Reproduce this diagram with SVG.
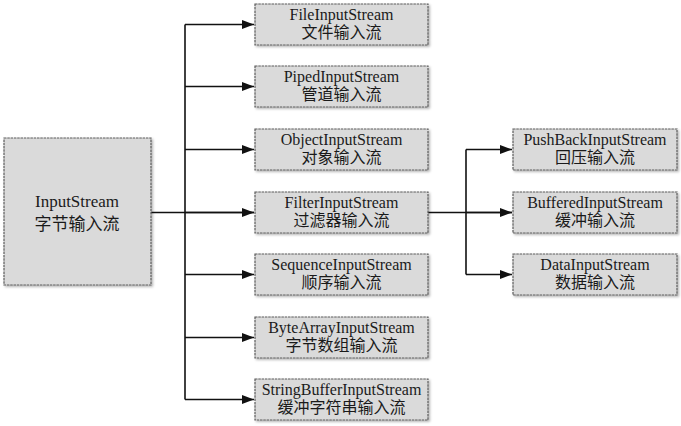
<svg xmlns="http://www.w3.org/2000/svg" width="681" height="426" viewBox="0 0 681 426">
<defs>
<marker id="arr" viewBox="0 0 12 9" refX="12" refY="4.5" markerWidth="12" markerHeight="9" markerUnits="userSpaceOnUse" orient="auto">
<path d="M0,0 L12,4.5 L0,9 Z" fill="#111"/>
</marker>
<filter id="sh" x="-5%" y="-5%" width="115%" height="120%">
<feDropShadow dx="1.5" dy="1.5" stdDeviation="0.8" flood-color="#000" flood-opacity="0.3"/>
</filter>
</defs>
<style>
.box{fill:#dadada;stroke:#5c5c5c;stroke-width:1.2;stroke-dasharray:2.5 0.8;filter:url(#sh)}
.t{font-family:"Liberation Serif","Noto Sans CJK SC",serif;font-size:16px;fill:#1a1a1a;text-anchor:middle}
.big{font-size:17px}
.c{stroke:#111;stroke-width:1.6;fill:none}
</style>
<rect width="681" height="426" fill="#fff"/>
<g id="connectors">
<path class="c" d="M151,212.5 H254"/>
<path class="c" d="M185,24.5 V399.5"/>
<path class="c" d="M185,24.5 H254" marker-end="url(#arr)"/>
<path class="c" d="M185,86.5 H254" marker-end="url(#arr)"/>
<path class="c" d="M185,149.5 H254" marker-end="url(#arr)"/>
<path class="c" d="M185,212.5 H254" marker-end="url(#arr)"/>
<path class="c" d="M185,274.5 H254" marker-end="url(#arr)"/>
<path class="c" d="M185,337.5 H254" marker-end="url(#arr)"/>
<path class="c" d="M185,399.5 H254" marker-end="url(#arr)"/>
<path class="c" d="M428,212.5 H512"/>
<path class="c" d="M466,149.5 V274.5"/>
<path class="c" d="M466,149.5 H512" marker-end="url(#arr)"/>
<path class="c" d="M466,212.5 H512" marker-end="url(#arr)"/>
<path class="c" d="M466,274.5 H512" marker-end="url(#arr)"/>
</g>
<g id="InputStream">
<rect class="box" x="4" y="138" width="147" height="147"/>
<text class="t big" x="77" y="207">InputStream</text>
<text class="t big" x="77" y="230">字节输入流</text>
</g>
<g id="FileInputStream">
<rect class="box" x="255" y="4" width="173" height="41"/>
<text class="t" x="341.5" y="19.5">FileInputStream</text>
<text class="t" x="341.5" y="38">文件输入流</text>
</g>
<g id="PipedInputStream">
<rect class="box" x="255" y="66" width="173" height="41"/>
<text class="t" x="341.5" y="81.5">PipedInputStream</text>
<text class="t" x="341.5" y="100">管道输入流</text>
</g>
<g id="ObjectInputStream">
<rect class="box" x="255" y="129" width="173" height="41"/>
<text class="t" x="341.5" y="144.5">ObjectInputStream</text>
<text class="t" x="341.5" y="163">对象输入流</text>
</g>
<g id="FilterInputStream">
<rect class="box" x="255" y="192" width="173" height="41"/>
<text class="t" x="341.5" y="207.5">FilterInputStream</text>
<text class="t" x="341.5" y="226">过滤器输入流</text>
</g>
<g id="SequenceInputStream">
<rect class="box" x="255" y="254" width="173" height="41"/>
<text class="t" x="341.5" y="269.5">SequenceInputStream</text>
<text class="t" x="341.5" y="288">顺序输入流</text>
</g>
<g id="ByteArrayInputStream">
<rect class="box" x="255" y="317" width="173" height="41"/>
<text class="t" x="341.5" y="332.5">ByteArrayInputStream</text>
<text class="t" x="341.5" y="351">字节数组输入流</text>
</g>
<g id="StringBufferInputStream">
<rect class="box" x="255" y="379" width="173" height="41"/>
<text class="t" x="341.5" y="394.5">StringBufferInputStream</text>
<text class="t" x="341.5" y="413">缓冲字符串输入流</text>
</g>
<g id="PushBackInputStream">
<rect class="box" x="513" y="129" width="164" height="41"/>
<text class="t" x="595" y="144.5">PushBackInputStream</text>
<text class="t" x="595" y="163">回压输入流</text>
</g>
<g id="BufferedInputStream">
<rect class="box" x="513" y="192" width="164" height="41"/>
<text class="t" x="595" y="207.5">BufferedInputStream</text>
<text class="t" x="595" y="226">缓冲输入流</text>
</g>
<g id="DataInputStream">
<rect class="box" x="513" y="254" width="164" height="41"/>
<text class="t" x="595" y="269.5">DataInputStream</text>
<text class="t" x="595" y="288">数据输入流</text>
</g>
</svg>
